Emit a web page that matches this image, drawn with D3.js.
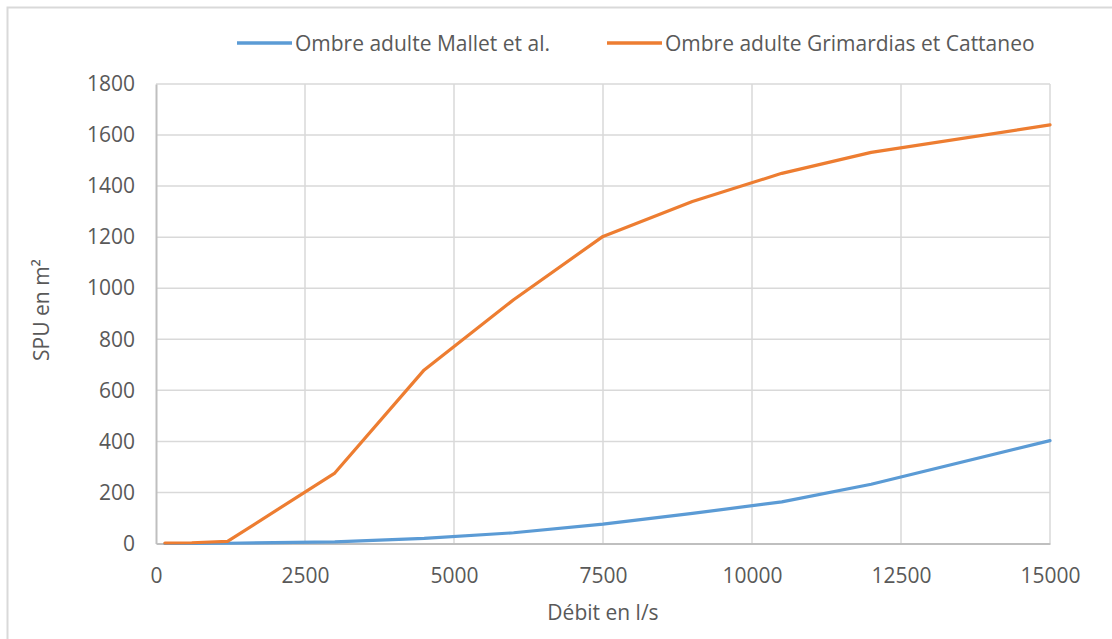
<!DOCTYPE html>
<html>
<head>
<meta charset="utf-8">
<script src="https://cdn.jsdelivr.net/npm/d3@7"></script>
<style>
  body { margin: 0; background: #fff; }
  text { font-family: "Open Sans", sans-serif; fill: #595959; }
</style>
</head>
<body>
<div id="chart"></div>
<script>
// data
var debits = [150, 600, 1200, 3000, 4500, 6000, 7500, 9000, 10500, 12000, 15000];
var mallet = [0, 0, 1, 6, 20, 42, 76, 118, 163, 232, 403];
var grimardias = [2, 3, 8, 276, 680, 955, 1203, 1340, 1450, 1532, 1640];
var seriesNames = ["Ombre adulte Mallet et al.", "Ombre adulte Grimardias et Cattaneo"];
var seriesColors = ["#5B9BD5", "#ED7D31"];
var xTicks = [0, 2500, 5000, 7500, 10000, 12500, 15000];
var yTicks = [0, 200, 400, 600, 800, 1000, 1200, 1400, 1600, 1800];

var width = 1112;
var height = 639;

var svg = d3.select("#chart")
  .append("svg")
  .attr("width", width)
  .attr("height", height);

// chart frame, runs off the right and bottom edge
svg.append("rect")
  .attr("x", 7.5)
  .attr("y", 7.5)
  .attr("width", width + 20)
  .attr("height", height + 20)
  .attr("fill", "none")
  .attr("stroke", "#D9D9D9")
  .attr("stroke-width", 2);

var xScale = d3.scaleLinear().domain([0, 15000]).range([156, 1050]);
var yScale = d3.scaleLinear().domain([0, 1800]).range([543.5, 84]);

// gridlines
svg.append("g")
  .selectAll("line")
  .data(yTicks.slice(1))
  .enter()
  .append("line")
  .attr("x1", xScale(0))
  .attr("x2", xScale(15000))
  .attr("y1", function(d) { return yScale(d); })
  .attr("y2", function(d) { return yScale(d); })
  .attr("stroke", "#D9D9D9")
  .attr("stroke-width", 1.5);

svg.append("g")
  .selectAll("line")
  .data(xTicks.slice(1))
  .enter()
  .append("line")
  .attr("x1", function(d) { return xScale(d); })
  .attr("x2", function(d) { return xScale(d); })
  .attr("y1", yScale(0))
  .attr("y2", yScale(1800))
  .attr("stroke", "#D9D9D9")
  .attr("stroke-width", 1.5);

// axes
var xAxis = d3.axisBottom(xScale).tickValues(xTicks).tickFormat(d3.format("d")).tickSize(0).tickPadding(20);
var yAxis = d3.axisLeft(yScale).tickValues(yTicks).tickFormat(d3.format("d")).tickSize(0).tickPadding(20);

var gx = svg.append("g")
  .attr("transform", "translate(0," + yScale(0) + ")")
  .call(xAxis);
var gy = svg.append("g")
  .attr("transform", "translate(" + xScale(0) + ",0)")
  .call(yAxis);

[gx, gy].forEach(function(g) {
  g.select(".domain").attr("stroke", "#BFBFBF").attr("stroke-width", 2);
  g.selectAll("text")
    .style("font-family", "'Open Sans', sans-serif")
    .style("font-size", "21px")
    .attr("fill", "#595959");
});
gx.selectAll("text").attr("dy", "0.71em").attr("y", 25);
gy.selectAll("text").attr("x", -21);

// lines
var line = d3.line()
  .x(function(d) { return xScale(d[0]); })
  .y(function(d) { return yScale(d[1]); });

[mallet, grimardias].forEach(function(vals, i) {
  svg.append("path")
    .datum(debits.map(function(x, j) { return [x, vals[j]]; }))
    .attr("d", line)
    .attr("fill", "none")
    .attr("stroke", seriesColors[i])
    .attr("stroke-width", 3.2)
    .attr("stroke-linejoin", "round")
    .attr("stroke-linecap", "round");
});

// axis titles
svg.append("text")
  .attr("x", (xScale(0) + xScale(15000)) / 2)
  .attr("y", 620)
  .attr("text-anchor", "middle")
  .style("font-size", "21px")
  .text("Débit en l/s");

svg.append("text")
  .attr("transform", "translate(49," + 310 + ")rotate(-90)")
  .attr("text-anchor", "middle")
  .style("font-size", "21px")
  .text("SPU en m²");

// legend
var legendX = [237, 607];
seriesNames.forEach(function(name, i) {
  var g = svg.append("g").attr("transform", "translate(" + legendX[i] + ",43)");
  g.append("line")
    .attr("x1", 0)
    .attr("x2", 55)
    .attr("stroke", seriesColors[i])
    .attr("stroke-width", 3.5);
  g.append("text")
    .attr("x", 58)
    .attr("dy", "0.36em")
    .style("font-size", "21px")
    .text(name);
});
</script>
</body>
</html>
